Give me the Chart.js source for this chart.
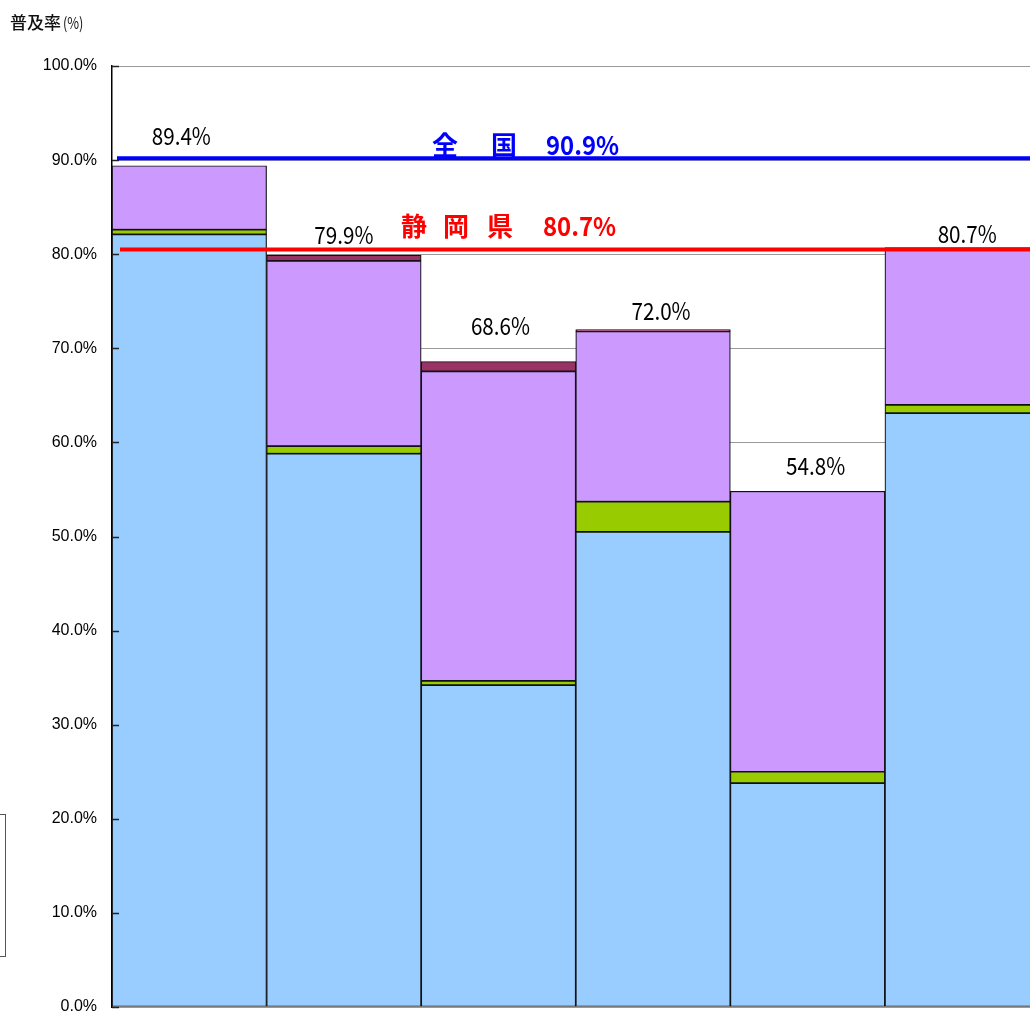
<!DOCTYPE html>
<html>
<head>
<meta charset="utf-8">
<script src="https://cdn.jsdelivr.net/npm/chart.js@4"></script>
<style>
  html, body { margin: 0; padding: 0; background: #fff; overflow: hidden; }
  #wrap { position: relative; width: 1060px; height: 1060px; }
  #legendBox { position: absolute; left: -200px; top: 814px; width: 204px; height: 141px; border: 1px solid #555; }
</style>
</head>
<body>
<div id="wrap">
  <canvas id="chart" width="1060" height="1060"></canvas>
  <div id="legendBox"></div>
</div>
<script>
'use strict';

// categories (their axis labels are cut off in the picture)
const categories = ['区分1', '区分2', '区分3', '区分4', '区分5', '区分6'];

// stacked shares, %
const sewerage = [82.1, 58.8, 34.2, 50.5, 23.8, 63.1];
const ruralDrainage = [0.5, 0.8, 0.45, 3.2, 1.2, 0.9];
const septicTank = [6.8, 19.7, 32.9, 18.1, 29.8, 16.7];
const communityPlant = [0, 0.6, 1.05, 0.2, 0, 0];

const totals = ['89.4%', '79.9%', '68.6%', '72.0%', '54.8%', '80.7%'];

// reference lines (value where drawn, label text)
const nationalLine = 90.2;
const nationalText = ['全', '国', '90.9%'];
const prefLine = 80.5;
const prefText = ['静', '岡', '県', '80.7%'];

const yTicks = [0, 10, 20, 30, 40, 50, 60, 70, 80, 90, 100];

// nudges for the total labels, px [dx, dy above bar top]
const labelShift = [[-8, 30], [0, 20], [2, 36], [8, 19], [8, 25], [5, 14]];

let canvasElem = document.getElementById('chart');

// draw text squeezed horizontally
function narrowText(ctx, text, x, y, squeeze) {
  ctx.save();
  ctx.translate(x, y);
  ctx.scale(squeeze, 1);
  ctx.fillText(text, 0, 0);
  ctx.restore();
}

const extras = {
  id: 'extras',
  afterDatasetsDraw(chart) {
    const ctx = chart.ctx;
    const y = chart.scales.y;
    const area = chart.chartArea;
    ctx.save();

    // inward ticks
    ctx.strokeStyle = '#222';
    ctx.lineWidth = 1.5;
    yTicks.forEach(v => {
      const py = Math.round(y.getPixelForValue(v)) + 0.5;
      ctx.beginPath();
      ctx.moveTo(area.left, py);
      ctx.lineTo(area.left + 7, py);
      ctx.stroke();
    });

    // reference lines
    ctx.lineWidth = 4;
    ctx.strokeStyle = '#0000ff';
    let py = y.getPixelForValue(nationalLine);
    ctx.beginPath(); ctx.moveTo(117, py); ctx.lineTo(chart.width, py); ctx.stroke();
    ctx.strokeStyle = '#ff0000';
    py = y.getPixelForValue(prefLine);
    ctx.beginPath(); ctx.moveTo(120, py); ctx.lineTo(chart.width, py); ctx.stroke();

    ctx.font = 'bold 26px "Noto Sans CJK JP"';
    ctx.textBaseline = 'alphabetic';
    ctx.textAlign = 'left';
    ctx.fillStyle = '#0000ff';
    let by = y.getPixelForValue(nationalLine) - 3;
    ctx.fillText(nationalText[0], 432, by);
    ctx.fillText(nationalText[1], 491, by);
    narrowText(ctx, nationalText[2], 546, by, 0.92);
    ctx.fillStyle = '#ff0000';
    by = y.getPixelForValue(prefLine) - 13;
    ctx.fillText(prefText[0], 401, by);
    ctx.fillText(prefText[1], 443, by);
    ctx.fillText(prefText[2], 487, by);
    narrowText(ctx, prefText[3], 543, by, 0.92);

    // totals
    const top = chart.getDatasetMeta(chart.data.datasets.length - 1);
    ctx.fillStyle = '#000';
    ctx.font = '24px "Noto Sans CJK JP"';
    ctx.textAlign = 'left';
    ctx.textBaseline = 'middle';
    top.data.forEach((bar, i) => {
      let sum = 0;
      chart.data.datasets.forEach(ds => { sum += ds.data[i]; });
      const ty = y.getPixelForValue(sum) - labelShift[i][1];
      const w = ctx.measureText(totals[i]).width * 0.86;
      narrowText(ctx, totals[i], bar.x + labelShift[i][0] - w / 2, ty, 0.86);
    });

    // axis title
    ctx.textBaseline = 'alphabetic';
    ctx.fillStyle = '#111';
    ctx.font = '500 17px "Noto Sans CJK JP"';
    ctx.fillText('普及率', 10, 29);
    ctx.font = '16px "Noto Sans CJK JP"';
    narrowText(ctx, '(%)', 63, 29, 0.8);
    ctx.restore();
  }
};

function makeSet(label, values, color) {
  return {
    label: label,
    data: values,
    backgroundColor: color,
    borderColor: '#111',
    borderWidth: 1.2,
    borderSkipped: false,
    categoryPercentage: 1,
    barPercentage: 1,
  };
}

function renderChart() {
  const data = {
    labels: categories,
    datasets: [
      makeSet('下水道', sewerage, '#99ccff'),
      makeSet('農業集落排水', ruralDrainage, '#99cc00'),
      makeSet('合併処理浄化槽', septicTank, '#cc99ff'),
      makeSet('コミュニティプラント', communityPlant, '#993366'),
    ],
  };

  const config = {
    type: 'bar',
    data: data,
    options: {
      responsive: false,
      animation: false,
      layout: { padding: { top: 66, left: 0, right: 20.5, bottom: 53 } },
      plugins: { legend: { display: false }, tooltip: { enabled: false } },
      scales: {
        x: { stacked: true, display: false },
        y: {
          stacked: true,
          min: 0,
          max: 100,
          afterFit(scale) { scale.width = 112; },
          ticks: {
            stepSize: 10,
            padding: 15,
            color: '#000',
            font: { family: '"Liberation Sans"', size: 16 },
            callback: v => v.toFixed(1) + '%',
          },
          grid: { color: '#999', lineWidth: 1, drawTicks: false },
          border: { color: '#000', width: 1.5 },
        },
      },
    },
    plugins: [extras],
  };

  new Chart(canvasElem, config);
}

renderChart();
</script>
</body>
</html>
